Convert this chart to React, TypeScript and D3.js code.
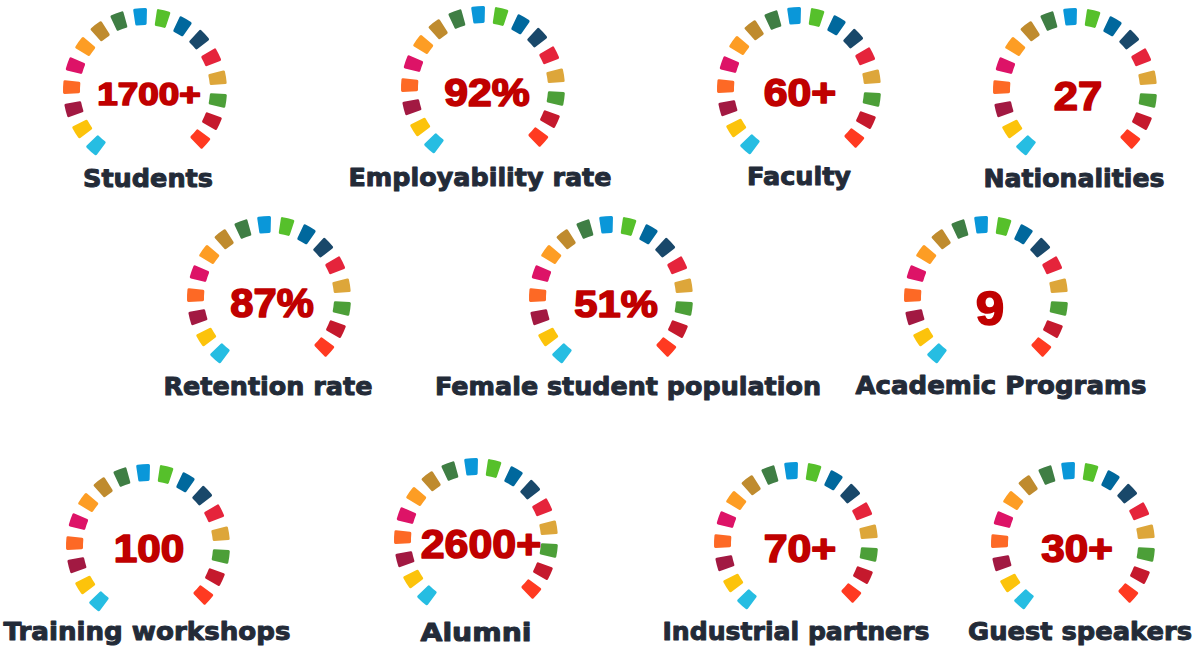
import * as d3 from "d3";

// SDG wheel colours, from the bottom-left segment clockwise to the bottom-right one
const sdgColors = [
  "#26BDE2", "#FCC30B", "#A21942", "#FD6925", "#DD1367", "#FD9D24",
  "#BF8B2E", "#3F7E44", "#0A97D9", "#56C02B", "#00689D", "#19486A",
  "#E5243B", "#DDA63A", "#4C9F38", "#C5192D", "#FF3A21",
];

const values = ["1700+", "92%", "60+", "27", "87%", "51%", "9", "100", "2600+", "70+", "30+"];

const labels = [
  "Students", "Employability rate", "Faculty", "Nationalities",
  "Retention rate", "Female student population", "Academic Programs",
  "Training workshops", "Alumni", "Industrial partners", "Guest speakers",
];

// layout: gauge centre, value text box (centre x, centre y, width, cap height), label (centre x, baseline, width)
const gaugeCenters = [
  [145, 90], [483, 88], [799, 89], [1075, 90],
  [269, 298], [611, 298], [986, 298],
  [148, 546], [476, 540], [796, 544], [1073, 544],
];
const valueBoxes = [
  [149, 93, 105, 23], [487, 92, 87, 28], [800, 92, 74, 28], [1078, 95, 50, 30],
  [272, 302, 85, 30], [616, 303, 85, 27], [990, 307, 30, 35],
  [149, 548, 72, 28], [481, 543, 122, 30], [800, 548, 74, 28], [1077, 548, 73, 28],
];
const labelBoxes = [
  [148, 187, 131], [480, 186, 264], [799, 185, 105], [1074, 187, 182],
  [268, 395, 210], [628, 395, 387], [1001, 394, 292],
  [147, 640, 288], [476, 641, 112], [796, 640, 268], [1080, 640, 225],
];

const W = 1199;
const H = 648;

const angle = d3
  .scaleLinear()
  .domain([0, sdgColors.length - 1])
  .range([-138.5, 131.5]);

const halfWidth = 4.9; // degrees
const toRad = (deg: number) => (deg * Math.PI) / 180;

const arc = d3
  .arc<number>()
  .innerRadius(65)
  .outerRadius(82)
  .cornerRadius(1.5)
  .startAngle((i) => toRad(angle(i) - halfWidth))
  .endAngle((i) => toRad(angle(i) + halfWidth));

export default function App() {
  return (
    <svg
      width={W}
      height={H}
      style={{ position: "absolute", left: 0, top: 0, background: "#ffffff" }}
    >
      {gaugeCenters.map(([cx, cy], g) => (
        <g key={"g" + g} transform={`translate(${cx},${cy})`}>
          {sdgColors.map((c, i) => (
            <path key={i} d={arc(i) || ""} fill={c} />
          ))}
        </g>
      ))}

      {/* Values */}
      {values.map((v, i) => {
        const [x, y, w, h] = valueBoxes[i];
        return (
          <text
            key={"v" + i}
            x={x}
            y={y + h / 2}
            textAnchor="middle"
            textLength={w - 1.5}
            lengthAdjust="spacingAndGlyphs"
            style={{
              fontFamily: "'Liberation Sans', Arial, sans-serif",
              fontWeight: 700,
              fontSize: h / 0.716 - 1,
              fill: "#C00000",
              stroke: "#C00000",
              strokeWidth: 1.6,
              strokeLinejoin: "round",
            }}
          >
            {v}
          </text>
        );
      })}

      {/* Labels */}
      {labels.map((l, i) => {
        const [x, y, w] = labelBoxes[i];
        return (
          <text
            key={"l" + i}
            x={x}
            y={y}
            textAnchor="middle"
            textLength={w - 1}
            lengthAdjust="spacingAndGlyphs"
            style={{
              fontFamily: "'DejaVu Sans', sans-serif",
              fontWeight: 700,
              fontSize: 25.5,
              fill: "#232B38",
              stroke: "#232B38",
              strokeWidth: 1,
              strokeLinejoin: "round",
            }}
          >
            {l}
          </text>
        );
      })}
    </svg>
  );
}
